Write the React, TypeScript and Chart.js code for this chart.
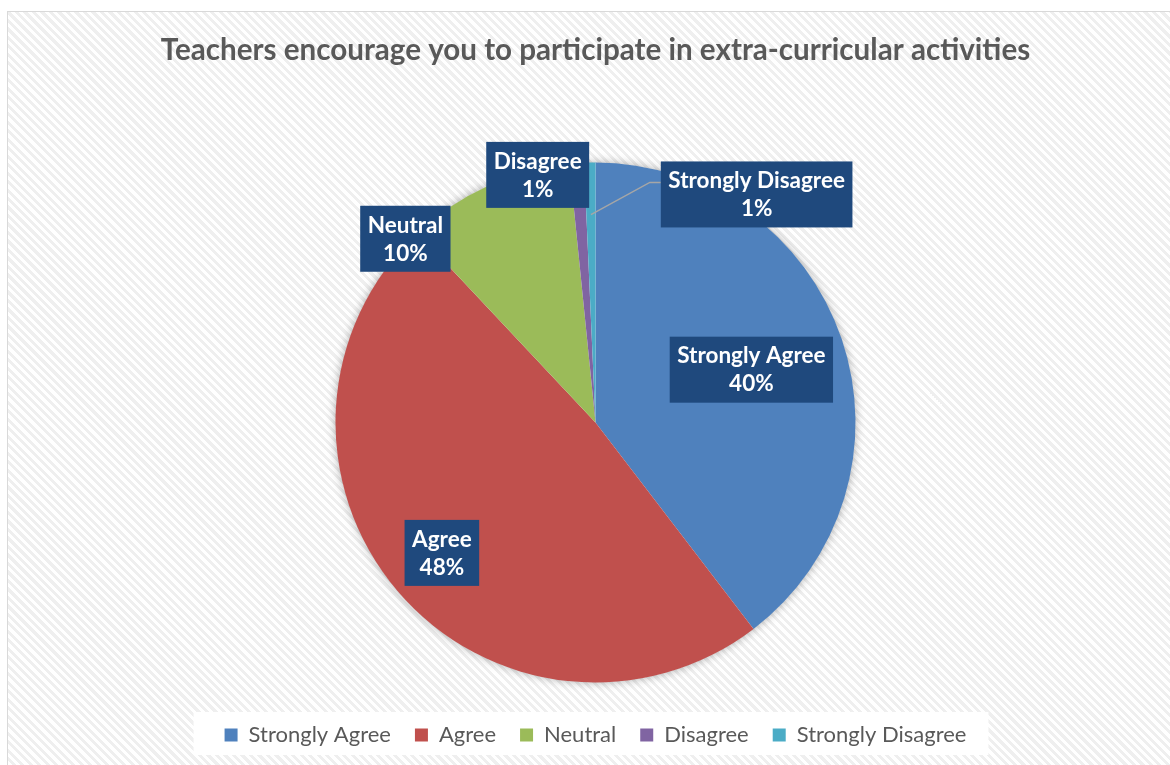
import React, { useEffect, useRef } from "react";
import { Chart, registerables } from "chart.js";

Chart.register(...registerables);

const titleText = "Teachers encourage you to participate in extra-curricular activities";
const categories = ["Strongly Agree", "Agree", "Neutral", "Disagree", "Strongly Disagree"];
const values = [39.6, 48.4, 10.4, 0.9, 0.7];
const sliceColors = ["#4F81BD", "#C0504D", "#9BBB59", "#8064A2", "#4BACC6"];

// data-label placement relative to each slice: angle offset (deg) from slice middle, distance as fraction of radius
const labelAngleOffsets = [0, 0, -21.5, -9, 36.5];
const labelRadiusFactors = [0.633, 0.775, 1.017, 0.978, 1.074];
const labelLeaderLines = [false, false, false, false, true];

const FONT = "Lato, 'Open Sans', sans-serif";

const pieShadowPlugin = {
  id: "pieShadow",
  beforeDatasetsDraw(chart: any) {
    const meta = chart.getDatasetMeta(0);
    if (!meta.data.length) return;
    const arc = meta.data[0];
    const { x, y, outerRadius } = arc.getProps(["x", "y", "outerRadius"], true);
    const ctx = chart.ctx;
    ctx.save();
    ctx.shadowColor = "rgba(0,0,0,0.35)";
    ctx.shadowBlur = 10;
    ctx.beginPath();
    ctx.arc(x, y, outerRadius - 0.5, 0, Math.PI * 2);
    ctx.fillStyle = "#ffffff";
    ctx.fill();
    ctx.restore();
  },
};

const legendBackgroundPlugin = {
  id: "legendBackground",
  beforeDraw(chart: any) {
    const legend = chart.legend;
    if (!legend || !legend.legendHitBoxes || !legend.legendHitBoxes.length) return;
    const hb = legend.legendHitBoxes;
    const first = hb[0];
    const last = hb[hb.length - 1];
    const cy = first.top + first.height / 2;
    const ctx = chart.ctx;
    ctx.save();
    ctx.fillStyle = "#ffffff";
    const left = first.left - 31;
    const right = last.left + last.width + 22;
    ctx.fillRect(left, cy - 23, right - left, 43);
    ctx.restore();
  },
};

const boxLabelPlugin = {
  id: "boxLabels",
  afterDatasetsDraw(chart: any) {
    const ctx = chart.ctx;
    const meta = chart.getDatasetMeta(0);
    const data = chart.data.datasets[0].data as number[];
    const total = data.reduce((a, b) => a + b, 0);
    ctx.save();
    ctx.font = `bold 22.5px ${FONT}`;
    ctx.textAlign = "center";
    ctx.textBaseline = "middle";
    meta.data.forEach((arc: any, i: number) => {
      const { x, y, startAngle, endAngle, outerRadius } = arc.getProps(
        ["x", "y", "startAngle", "endAngle", "outerRadius"],
        true
      );
      const mid = (startAngle + endAngle) / 2;
      const a = mid + (labelAngleOffsets[i] * Math.PI) / 180;
      const cx = x + Math.cos(a) * outerRadius * labelRadiusFactors[i];
      const cy = y + Math.sin(a) * outerRadius * labelRadiusFactors[i];
      const lines = [chart.data.labels[i], Math.round((data[i] / total) * 100) + "%"];
      const w = Math.max(...lines.map((l: string) => ctx.measureText(l).width)) + 15;
      const h = 66;
      if (labelLeaderLines[i]) {
        const sx = x + Math.cos(mid) * outerRadius * 0.8;
        const sy = y + Math.sin(mid) * outerRadius * 0.8;
        ctx.beginPath();
        ctx.moveTo(sx, sy);
        ctx.lineTo(cx - w / 2 - 11, cy - 12);
        ctx.lineTo(cx - w / 2, cy - 12);
        ctx.strokeStyle = "#A6A6A6";
        ctx.lineWidth = 1.5;
        ctx.stroke();
      }
      ctx.fillStyle = "#1F497D";
      ctx.fillRect(cx - w / 2, cy - h / 2, w, h);
      ctx.fillStyle = "#ffffff";
      ctx.fillText(lines[0], cx, cy - 13.5);
      ctx.fillText(lines[1], cx, cy + 14.5);
    });
    ctx.restore();
  },
};

export default function App() {
  const canvasRef = useRef<HTMLCanvasElement | null>(null);

  useEffect(() => {
    if (!canvasRef.current) return;
    const chart = new Chart(canvasRef.current, {
      type: "pie",
      data: {
        labels: categories,
        datasets: [
          {
            data: values,
            backgroundColor: sliceColors,
            borderWidth: 0,
            radius: 260,
          } as any,
        ],
      },
      options: {
        animation: false,
        responsive: true,
        maintainAspectRatio: false,
        layout: { padding: { left: 13, right: 0, top: 0, bottom: 9 } },
        plugins: {
          title: {
            display: true,
            text: titleText,
            color: "#595959",
            font: { family: FONT, size: 29.6, weight: "bold", lineHeight: 1.2 },
            padding: { top: 20.6, bottom: 76.9 },
          },
          legend: {
            position: "bottom",
            labels: {
              boxWidth: 13,
              boxHeight: 13,
              padding: 24,
              color: "#595959",
              font: { family: FONT, size: 22 },
            },
          },
          tooltip: { enabled: false },
        },
      },
      plugins: [pieShadowPlugin, legendBackgroundPlugin, boxLabelPlugin],
    });
    return () => chart.destroy();
  }, []);

  return (
    <div
      style={{
        position: "fixed",
        left: 7,
        top: 11,
        width: 1162,
        height: 753,
        borderLeft: "1px solid #D9D9D9",
        borderTop: "1px solid #D9D9D9",
        background:
          "repeating-linear-gradient(45deg, #ffffff 0px, #ffffff 3px, #efefef 3px, #efefef 6px)",
      }}
    >
      <div style={{ position: "relative", width: "100%", height: "100%" }}>
        <canvas ref={canvasRef} />
      </div>
    </div>
  );
}
